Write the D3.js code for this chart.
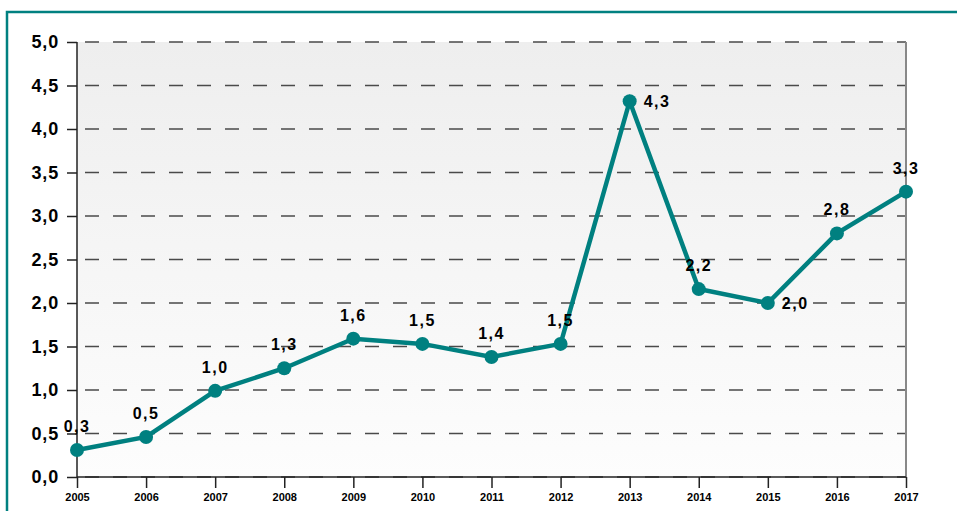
<!DOCTYPE html>
<html><head><meta charset="utf-8">
<script src="https://cdn.jsdelivr.net/npm/d3@7"></script>
<style>body{margin:0;background:#fff}svg{display:block}</style>
</head><body>
<svg id="c" width="957" height="511"></svg>
<script>
const years = [2005,2006,2007,2008,2009,2010,2011,2012,2013,2014,2015,2016,2017];
const values = [0.31,0.46,0.99,1.25,1.59,1.53,1.38,1.53,4.32,2.16,2.0,2.80,3.28];
const labels = ["0,3","0,5","1,0","1,3","1,6","1,5","1,4","1,5","4,3","2,2","2,0","2,8","3,3"];
const labelPlacement = ["above","above","above","above","above","above","above","above","right","above","right","above","above"];
const yTicks = [0,0.5,1,1.5,2,2.5,3,3.5,4,4.5,5];
const yTickLabels = ["0,0","0,5","1,0","1,5","2,0","2,5","3,0","3,5","4,0","4,5","5,0"];

const FONT = "Arial, 'Liberation Sans', sans-serif";
const svg = d3.select("#c");
const L=77, R=906, T=42, B=477;
const x = d3.scaleLinear().domain([2005,2017]).range([L,R]);
const y = d3.scaleLinear().domain([0,5]).range([B,T]);

// outer border
svg.append("rect").attr("x",7).attr("y",12).attr("width",980).attr("height",540)
  .attr("fill","none").attr("stroke","#008080").attr("stroke-width",2.5);

const defs = svg.append("defs");
const g = defs.append("linearGradient").attr("id","bg").attr("x1",0).attr("y1",0).attr("x2",0).attr("y2",1);
g.append("stop").attr("offset","0%").attr("stop-color","#eeeeee");
g.append("stop").attr("offset","100%").attr("stop-color","#fdfdfd");
svg.append("rect").attr("x",L).attr("y",T).attr("width",R-L).attr("height",B-T).attr("fill","url(#bg)");

// grid
svg.append("g").selectAll("line").data(yTicks).join("line")
  .attr("x1",L).attr("x2",R).attr("y1",d=>y(d)).attr("y2",d=>y(d))
  .attr("stroke","#4a4a4a").attr("stroke-width",1.3).attr("stroke-dasharray","14,14").attr("stroke-dashoffset",-8);

// right border
svg.append("line").attr("x1",R).attr("x2",R).attr("y1",T).attr("y2",B).attr("stroke","#888").attr("stroke-width",2);

// y axis
const ya = svg.append("g").attr("transform",`translate(${L},0)`)
  .call(d3.axisLeft(y).tickValues(yTicks).tickSize(10).tickPadding(8).tickFormat((d,i)=>yTickLabels[i]));
ya.select(".domain").attr("stroke","#222").attr("stroke-width",1.5).attr("d",`M0,${T}V${B}`);
ya.selectAll(".tick line").attr("stroke","#222").attr("stroke-width",1.5);
ya.selectAll("text").attr("font-family",FONT).attr("font-weight","bold").attr("font-size",18)
  .attr("letter-spacing",0.8).attr("fill","#000");

// x axis
const xa = svg.append("g").attr("transform",`translate(0,${B})`)
  .call(d3.axisBottom(x).tickValues(years).tickSize(11).tickPadding(5).tickFormat(d3.format("d")));
xa.select(".domain").attr("stroke","#222").attr("stroke-width",1.5).attr("d",`M${L},0H${R}`);
xa.selectAll(".tick line").attr("stroke","#222").attr("stroke-width",1.5);
xa.selectAll("text").attr("font-family",FONT).attr("font-weight","bold").attr("font-size",11).attr("fill","#000");

// line
const line = d3.line().x((d,i)=>x(years[i])).y(d=>y(d));
svg.append("path").attr("d",line(values)).attr("fill","none").attr("stroke","#008080").attr("stroke-width",4.5).attr("stroke-linejoin","miter");
svg.append("g").selectAll("circle").data(values).join("circle")
  .attr("cx",(d,i)=>x(years[i])).attr("cy",d=>y(d)).attr("r",7).attr("fill","#008080");

// labels
svg.append("g").selectAll("text").data(values).join("text")
  .attr("x",(d,i)=>labelPlacement[i]==="right"? x(years[i])+14 : x(years[i]))
  .attr("y",(d,i)=>labelPlacement[i]==="right"? y(d)+6 : y(d)-18)
  .attr("text-anchor",(d,i)=>labelPlacement[i]==="right"?"start":"middle")
  .attr("font-family",FONT).attr("font-weight","bold").attr("font-size",16)
  .attr("letter-spacing",1.5)
  .text((d,i)=>labels[i]);
</script>
</body></html>
